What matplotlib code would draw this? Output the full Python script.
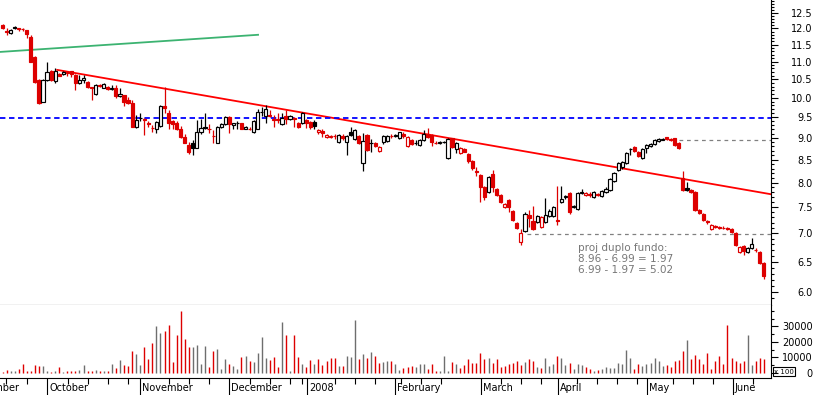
import matplotlib
matplotlib.use("Agg")
import matplotlib.pyplot as plt
import matplotlib.transforms as mtransforms
from matplotlib.patches import Rectangle
from matplotlib.ticker import FixedLocator, NullFormatter
import numpy as np

# ── data ─────────────────────────────────────────────────────────────────────
opens = [
    12.10, 11.91, 11.85, 12.04, 12.00, 11.99, 11.95, 11.72, 11.12, 10.48,
    9.90, 10.48, 10.72, 10.45, 10.65, 10.64, 10.70, 10.72, 10.63, 10.40,
    10.48, 10.43, 10.28, 10.09, 10.34, 10.27, 10.30, 10.22, 10.27, 10.04,
    10.06, 9.95, 9.87, 9.26, 9.47, 9.45, 9.36, 9.24, 9.21, 9.28,
    9.79, 9.61, 9.40, 9.35, 9.20, 9.02, 8.83, 8.88, 8.77, 9.13,
    9.26, 9.21, 9.05, 8.88, 9.26, 9.33, 9.50, 9.31, 9.35, 9.35,
    9.21, 9.21, 9.13, 9.22, 9.62, 9.52, 9.56, 9.46, 9.45, 9.33,
    9.53, 9.46, 9.47, 9.35, 9.35, 9.43, 9.38, 9.38, 9.13, 9.16,
    9.02, 9.02, 9.05, 8.90, 9.04, 8.90, 9.13, 8.97, 9.04, 8.43,
    9.06, 8.87, 8.88, 8.70, 8.90, 8.92, 9.05, 9.05, 8.99, 9.09,
    8.81, 8.95, 8.87, 8.83, 8.95, 9.09, 9.06, 8.89, 8.88, 8.90,
    8.54, 8.99, 8.74, 8.65, 8.74, 8.62, 8.47, 8.24, 8.16, 7.90,
    7.80, 8.19, 7.86, 7.75, 7.51, 7.65, 7.43, 7.20, 6.84, 7.05,
    7.35, 7.24, 7.22, 7.12, 7.22, 7.33, 7.33, 7.25, 7.60, 7.71,
    7.78, 7.51, 7.47, 7.79, 7.75, 7.76, 7.71, 7.76, 7.72, 7.80,
    7.84, 8.04, 8.27, 8.34, 8.43, 8.74, 8.79, 8.68, 8.54, 8.76,
    8.80, 8.86, 8.92, 8.96, 9.02, 8.97, 8.99, 8.88, 8.10, 7.88,
    7.84, 7.80, 7.45, 7.37, 7.23, 7.09, 7.13, 7.12, 7.11, 7.10,
    7.09, 7.00, 6.67, 6.77, 6.67, 6.74, 6.71, 6.67, 6.48,
]
highs = [
    12.13, 12.00, 11.97, 12.07, 12.02, 12.01, 11.96, 11.79, 11.15, 10.50,
    10.50, 11.00, 10.76, 10.80, 10.68, 10.72, 10.72, 10.74, 10.65, 10.63,
    10.63, 10.45, 10.30, 10.37, 10.36, 10.40, 10.32, 10.35, 10.33, 10.25,
    10.08, 10.02, 9.95, 9.55, 9.61, 9.47, 9.40, 9.30, 9.40, 9.82,
    10.30, 9.69, 9.42, 9.40, 9.28, 9.08, 8.90, 8.95, 9.43, 9.45,
    9.61, 9.33, 9.18, 9.28, 9.35, 9.52, 9.52, 9.37, 9.40, 9.37,
    9.28, 9.25, 9.43, 9.72, 9.76, 9.82, 9.69, 9.56, 9.60, 9.61,
    9.69, 9.55, 9.50, 9.38, 9.63, 9.45, 9.40, 9.43, 9.20, 9.20,
    9.08, 9.07, 9.08, 9.10, 9.10, 9.06, 9.26, 9.22, 9.06, 9.11,
    9.08, 8.97, 8.90, 8.81, 9.06, 9.07, 9.08, 9.10, 9.15, 9.13,
    9.04, 8.97, 8.95, 8.97, 9.18, 9.23, 9.08, 8.92, 8.92, 8.93,
    9.00, 9.00, 8.90, 8.79, 8.76, 8.64, 8.49, 8.34, 8.18, 7.92,
    8.14, 8.27, 7.88, 7.77, 7.59, 7.67, 7.45, 7.22, 7.09, 7.41,
    7.45, 7.52, 7.35, 7.33, 7.68, 7.46, 7.53, 7.92, 7.92, 7.74,
    7.80, 7.55, 7.80, 7.86, 7.80, 7.80, 7.82, 7.78, 7.84, 7.90,
    8.10, 8.23, 8.45, 8.47, 8.67, 8.77, 8.81, 8.70, 8.76, 8.85,
    8.88, 8.97, 8.99, 9.00, 9.03, 8.99, 9.00, 8.90, 8.25, 8.02,
    7.86, 7.82, 7.47, 7.39, 7.26, 7.18, 7.15, 7.14, 7.13, 7.12,
    7.11, 7.02, 6.77, 6.79, 6.76, 6.92, 6.73, 6.69, 6.50,
]
lows = [
    11.98, 11.79, 11.83, 11.98, 11.93, 11.92, 11.69, 11.00, 10.40, 9.84,
    9.88, 10.45, 10.45, 10.40, 10.58, 10.62, 10.58, 10.56, 10.20, 10.38,
    10.40, 10.27, 9.95, 10.07, 10.28, 10.25, 10.20, 10.20, 10.00, 10.02,
    9.79, 9.85, 9.25, 9.24, 9.40, 9.06, 9.26, 9.13, 9.11, 9.26,
    9.61, 9.20, 9.22, 9.18, 9.00, 8.87, 8.62, 8.60, 8.77, 9.10,
    9.22, 9.11, 8.88, 8.88, 9.24, 9.30, 9.11, 9.22, 9.20, 9.20,
    9.20, 9.18, 9.11, 9.20, 9.53, 9.37, 9.50, 9.26, 9.35, 9.31,
    9.33, 9.43, 9.26, 9.23, 9.33, 9.23, 9.20, 9.22, 9.08, 9.02,
    9.00, 9.00, 8.98, 8.88, 8.95, 8.60, 9.04, 8.95, 8.86, 8.25,
    8.70, 8.68, 8.79, 8.68, 8.86, 8.90, 9.00, 9.02, 8.97, 9.00,
    8.79, 8.83, 8.83, 8.81, 8.93, 8.99, 8.81, 8.85, 8.86, 8.88,
    8.52, 8.77, 8.65, 8.63, 8.66, 8.43, 8.28, 8.14, 7.60, 7.65,
    7.78, 7.80, 7.72, 7.58, 7.49, 7.40, 7.24, 7.08, 6.79, 7.03,
    7.12, 7.07, 7.20, 7.10, 7.20, 7.31, 7.31, 7.16, 7.58, 7.67,
    7.37, 7.49, 7.45, 7.77, 7.73, 7.70, 7.69, 7.72, 7.70, 7.78,
    7.82, 8.02, 8.25, 8.30, 8.41, 8.60, 8.68, 8.55, 8.52, 8.65,
    8.78, 8.84, 8.90, 8.95, 8.95, 8.93, 8.80, 8.74, 7.82, 7.83,
    7.78, 7.43, 7.37, 7.24, 7.18, 7.07, 7.10, 7.09, 7.08, 7.07,
    7.01, 6.77, 6.65, 6.62, 6.65, 6.72, 6.67, 6.46, 6.21,
]
closes = [
    12.00, 11.90, 11.95, 12.00, 11.98, 11.97, 11.83, 11.00, 10.43, 9.87,
    10.48, 10.70, 10.48, 10.72, 10.60, 10.70, 10.68, 10.65, 10.40, 10.48,
    10.54, 10.29, 10.25, 10.35, 10.31, 10.38, 10.22, 10.27, 10.04, 10.10,
    9.90, 9.87, 9.26, 9.43, 9.49, 9.42, 9.34, 9.23, 9.38, 9.79,
    9.73, 9.35, 9.33, 9.20, 9.02, 8.88, 8.68, 8.77, 9.13, 9.23,
    9.24, 9.20, 9.04, 9.26, 9.33, 9.50, 9.33, 9.35, 9.37, 9.22,
    9.26, 9.20, 9.40, 9.63, 9.64, 9.72, 9.53, 9.44, 9.42, 9.48,
    9.45, 9.52, 9.45, 9.26, 9.61, 9.35, 9.26, 9.28, 9.18, 9.11,
    9.06, 9.05, 9.04, 9.06, 9.00, 9.04, 9.06, 9.18, 8.88, 8.92,
    8.72, 8.88, 8.81, 8.79, 9.04, 9.05, 9.04, 9.06, 9.13, 9.04,
    9.02, 8.86, 8.88, 8.95, 9.09, 9.02, 8.90, 8.88, 8.90, 8.91,
    8.97, 8.79, 8.88, 8.77, 8.68, 8.47, 8.32, 8.23, 7.90, 7.70,
    8.12, 7.90, 7.75, 7.60, 7.57, 7.50, 7.26, 7.10, 7.00, 7.37,
    7.29, 7.09, 7.33, 7.31, 7.35, 7.43, 7.50, 7.24, 7.67, 7.72,
    7.41, 7.53, 7.78, 7.80, 7.79, 7.75, 7.80, 7.75, 7.82, 7.86,
    8.08, 8.21, 8.43, 8.45, 8.65, 8.75, 8.70, 8.57, 8.74, 8.83,
    8.86, 8.95, 8.97, 8.98, 8.97, 8.96, 8.83, 8.77, 7.84, 7.85,
    7.80, 7.45, 7.39, 7.26, 7.22, 7.16, 7.12, 7.11, 7.10, 7.09,
    7.03, 6.79, 6.75, 6.69, 6.74, 6.80, 6.70, 6.48, 6.26,
]
volumes = [  # x 100
    400, 1700, 1100, 1100, 2800, 5900, 1100, 1100, 5000, 4400,
    4400, 1500, 400, 1100, 3700, 400, 1100, 1100, 1100, 1700,
    5000, 1100, 1100, 1700, 1100, 1100, 1100, 5900, 3300, 8300,
    5000, 4400, 14200, 12400, 5000, 16800, 9200, 19000, 30500, 25500,
    27300, 31200, 7000, 24400, 39700, 21800, 16400, 16400, 18100, 5900,
    17400, 3900, 14200, 15700, 2600, 9200, 5500, 4400, 2600, 10500,
    10900, 7600, 7000, 13100, 22900, 9800, 8100, 10500, 3700, 32700,
    24200, 1100, 24200, 10500, 5900, 3900, 8100, 5500, 8700, 4800,
    7600, 9800, 9800, 4400, 4400, 10900, 10500, 33800, 8700, 12000,
    9800, 13500, 10900, 6500, 7000, 7400, 7600, 5900, 1700, 3300,
    3700, 4400, 3700, 5500, 5500, 2600, 5500, 1100, 1100, 10900,
    1500, 7000, 5900, 3300, 5000, 8700, 6500, 6500, 13100, 8700,
    9800, 6500, 8700, 3900, 4400, 5900, 6300, 7600, 5000, 7000,
    8700, 7600, 3700, 3300, 9800, 4400, 5900, 10900, 9800, 4800,
    6500, 2200, 5500, 4800, 3700, 2200, 1100, 1700, 2200, 3700,
    3300, 3300, 6100, 5500, 14600, 9800, 2600, 5500, 4400, 5500,
    6500, 9400, 7600, 4400, 4800, 3700, 7600, 8300, 14200, 21100,
    8700, 11300, 9200, 5900, 13100, 2200, 7600, 10900, 5900, 31200,
    9400, 7600, 6100, 7600, 24400, 5000, 7600, 9400, 9000,
]

month_names = ["September", "October", "November", "December", "2008",
               "February", "March", "April", "May", "June"]
month_starts = [-9.7, 11.06, 34.0, 56.0, 75.2, 96.9, 118.1, 137.2, 159.2, 180.4]
week_ticks = [0.9, 6.0, 16.2, 21.1, 26.0, 31.0, 41.1, 46.0, 51.0, 61.1, 66.0,
              71.0, 73.9, 82.1, 87.0, 92.0, 98.4, 103.3, 108.3, 123.1, 128.0,
              133.0, 141.9, 146.8, 151.7, 156.7, 165.6, 170.5, 175.4, 185.3]

price_ticks = [6.0, 6.5, 7.0, 7.5, 8.0, 8.5, 9.0, 9.5, 10.0, 10.5, 11.0, 11.5, 12.0, 12.5]
vol_ticks = [0, 10000, 20000, 30000]

# drawn studies
green_x, green_y = [-0.62, 63.1], [11.28, 11.80]
red_x, red_y = [13.5, 189.75], [10.76, 7.76]
blue_level = 9.49
top_level, top_from = 8.96, 167.0
bottom_level, bottom_from = 6.99, 129.5

note = "proj duplo fundo:\n8.96 - 6.99 = 1.97\n6.99 - 1.97 = 5.02"

RED = "#dd0000"
GRAY = "#6e6e6e"

# ── figure ────────────────────────────────────────────────────────────────────
W, H = 817, 395
fig = plt.figure(figsize=(W / 100, H / 100), dpi=100)
ax = fig.add_axes([0, 1 - 305 / H, 771 / W, 305 / H])
axv = fig.add_axes([0, 1 - 378 / H, 771 / W, 73 / H])

o, h, l, c = map(np.array, (opens, highs, lows, closes))
x = np.arange(len(c))
prev = np.concatenate([[c[0] + 1], c[:-1]])
edge = np.where(c < prev, RED, "black")
face = np.where(c < o, edge, "white")

ax.set_yscale("log")
ax.vlines(x, l, h, colors=edge, lw=0.9, zorder=3)
bottom = np.minimum(o, c)
height = np.maximum(np.abs(c - o), 0.004)
ax.bar(x, height, bottom=bottom, width=0.78, color=face, edgecolor=edge,
       linewidth=0.85, zorder=4)

ax.plot(green_x, green_y, color="#3cb371", lw=1.3, zorder=2)
ax.plot(red_x, red_y, color="#ff0000", lw=1.3, zorder=2)
ax.axhline(blue_level, color="#0000ff", lw=1.3, ls=(0, (3, 2)), zorder=2)
ax.plot([top_from, 200], [top_level] * 2, color="#808080", lw=0.9,
        ls=(0, (3, 3)), zorder=2)
ax.plot([bottom_from, 200], [bottom_level] * 2, color="#808080", lw=0.9,
        ls=(0, (3, 3)), zorder=2)
ax.text(142.1, 6.55, note, color="#777777", fontsize=7.5, ha="left",
        va="center", linespacing=1.15)

ax.set_xlim(-0.62, 189.75)
ax.set_ylim(5.80, 12.93)
for side in ("left", "top"):
    ax.spines[side].set_visible(False)
ax.set_xticks([])
ax.yaxis.tick_right()
ax.yaxis.set_major_locator(FixedLocator(price_ticks))
ax.set_yticklabels([f"{p:.1f}" for p in price_ticks])
ax.yaxis.set_minor_locator(FixedLocator(np.round(np.arange(5.9, 12.95, 0.1), 1)))
ax.yaxis.set_minor_formatter(NullFormatter())
ax.tick_params(axis="y", which="major", length=5, width=0.8, pad=25, labelsize=7)
ax.tick_params(axis="y", which="minor", length=2.5, width=0.8)
for lab in ax.get_yticklabels():
    lab.set_horizontalalignment("right")

# volume panel
vcol = np.where(c < prev, RED, GRAY)
axv.vlines(x, 0, volumes, colors=vcol, lw=1.0)
axv.set_xlim(-0.62, 189.75)
axv.set_ylim(-3300, 43800)
axv.spines["left"].set_visible(False)
axv.spines["top"].set_visible(False)
axv.yaxis.tick_right()
axv.set_yticks(vol_ticks)
axv.set_yticklabels([str(v) for v in vol_ticks])
axv.yaxis.set_minor_locator(FixedLocator([5000, 15000, 25000, 35000, 40000]))
axv.tick_params(axis="y", which="major", length=5, width=0.8, pad=25, labelsize=7)
axv.tick_params(axis="y", which="minor", length=2.5, width=0.8)
for lab in axv.get_yticklabels():
    lab.set_horizontalalignment("right")
axv.set_xticks(week_ticks)
axv.set_xticklabels([])
axv.tick_params(axis="x", length=4.5, width=0.8)

trans = mtransforms.blended_transform_factory(axv.transData, axv.transAxes)
axv.vlines(month_starts, -0.25, 0, transform=trans, colors="black", lw=0.8,
           clip_on=False)
# "September" is cut by the left edge in the original too
for m, name in zip(month_starts, month_names):
    axv.text(m + 0.45, -0.14, name, transform=trans, ha="left", va="center",
             fontsize=7, clip_on=False)

fig.patches.append(Rectangle((773 / W, 1 - 376 / H), 22 / W, 9 / H,
                             transform=fig.transFigure, fill=False,
                             edgecolor="black", lw=0.8))
fig.text(784 / W, 1 - 371.5 / H, "x 100", fontsize=5, ha="center", va="center")

fig.savefig("out.png", dpi=100)
